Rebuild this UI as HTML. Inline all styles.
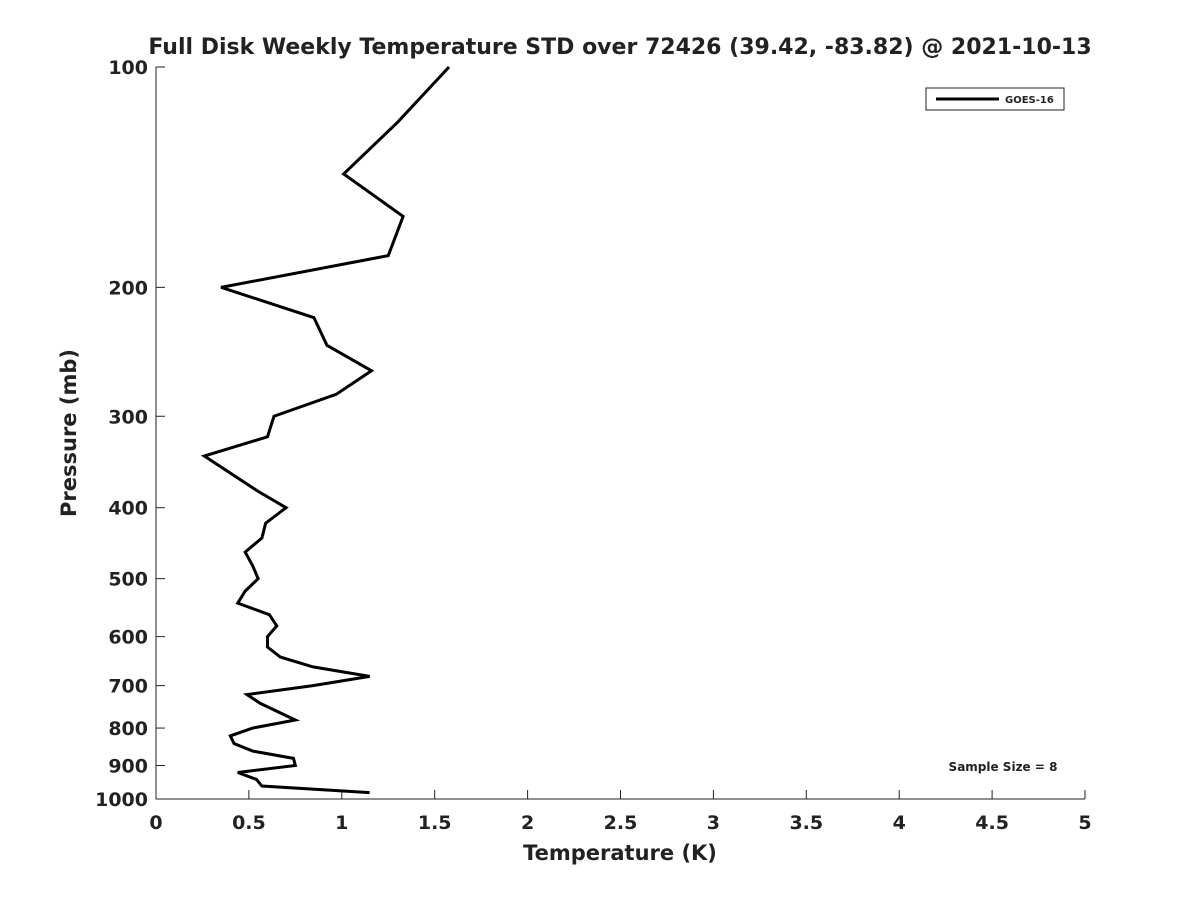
<!DOCTYPE html>
<html><head><meta charset="utf-8"><style>
body{margin:0;background:#fff;font-family:"Liberation Sans","DejaVu Sans",sans-serif}
svg text{font-family:"DejaVu Sans","Liberation Sans",sans-serif;font-weight:bold;fill:#222}
</style></head><body>
<svg id="chart" width="1200" height="900" xmlns="http://www.w3.org/2000/svg"></svg>
<script>
const temps=[1.577,1.30,1.01,1.33,1.25,0.35,0.85,0.92,1.16,0.97,0.635,0.60,0.26,0.55,0.70,0.59,0.57,0.48,0.52,0.55,0.48,0.44,0.61,0.65,0.60,0.60,0.67,0.845,1.15,0.845,0.49,0.56,0.75,0.52,0.40,0.42,0.52,0.74,0.75,0.44,0.54,0.57,1.15];
const pressures=[100,119,140,160,181,200,220,240,260,280,300,320,340,380,400,420,440,460,480,500,520,540,560,580,600,620,640,660,680,700,720,740,780,800,820,840,860,880,900,920,940,960,980];
const xTicks=[0,0.5,1,1.5,2,2.5,3,3.5,4,4.5,5];
const xTickLabels=["0","0.5","1","1.5","2","2.5","3","3.5","4","4.5","5"];
const yTicks=[100,200,300,400,500,600,700,800,900,1000];
const L=156,R=1085,T=67,B=799;
const xs=v=>L+(v-0)/(5-0)*(R-L);
const ys=p=>T+(Math.log10(p)-2)*(B-T);
const svg=document.getElementById('chart');
const NS='http://www.w3.org/2000/svg';
function mk(tag,attrs,parent){const e=document.createElementNS(NS,tag);for(const k in attrs)e.setAttribute(k,attrs[k]);(parent||svg).appendChild(e);return e;}
let e;
e=mk('text',{x:620,y:54,'text-anchor':'middle','font-size':22});e.textContent='Full Disk Weekly Temperature STD over 72426 (39.42, -83.82) @ 2021-10-13';


e=mk('path',{d:`M${L},${T}V${B}H${R}`,fill:'none',stroke:'#222','stroke-width':1});


xTicks.forEach((v,i)=>{
 mk('line',{x1:xs(v),x2:xs(v),y1:B,y2:B-9,stroke:'#222'});
 const t=mk('text',{x:xs(v),y:B+30,'text-anchor':'middle','font-size':19});t.textContent=xTickLabels[i];
 
 
});
yTicks.forEach(p=>{
 mk('line',{x1:L,x2:L+9,y1:ys(p),y2:ys(p),stroke:'#222'});
 const t=mk('text',{x:L-8,y:ys(p)+7,'text-anchor':'end','font-size':19});t.textContent=String(p);
 
 
});
e=mk('text',{x:620,y:860,'text-anchor':'middle','font-size':21});e.textContent='Temperature (K)';


e=mk('text',{x:0,y:0,'text-anchor':'middle','font-size':21,transform:`translate(76,433) rotate(-90)`});e.textContent='Pressure (mb)';


e=mk('polyline',{points:temps.map((t,i)=>xs(t)+','+ys(pressures[i])).join(' '),fill:'none',stroke:'#000','stroke-width':3,'stroke-linejoin':'miter'});


const g=mk('g',{});


mk('rect',{x:926,y:88,width:138,height:22,fill:'#fff',stroke:'#222'},g);
mk('line',{x1:936,x2:999,y1:99,y2:99,stroke:'#000','stroke-width':3},g);
e=mk('text',{x:1005,y:103,'font-size':10},g);e.textContent='GOES-16';
e=mk('text',{x:1003,y:771,'text-anchor':'middle','font-size':12});e.textContent='Sample Size = 8';


</script>
</body></html>
